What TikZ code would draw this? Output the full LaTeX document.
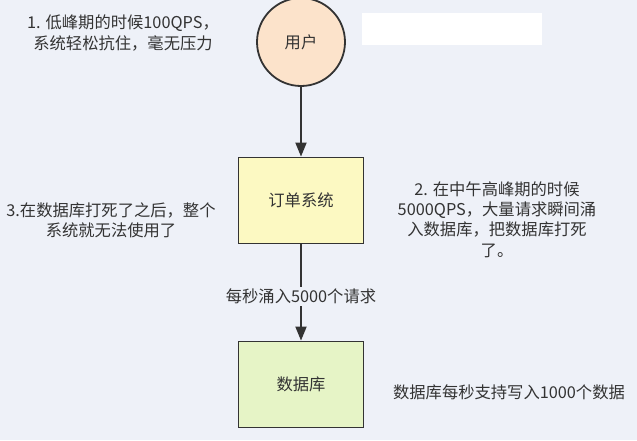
\documentclass[tikz,border=0pt]{standalone}
\usepackage{fontspec}
\setmainfont{Noto Sans CJK SC}
\usetikzlibrary{arrows.meta}
\definecolor{bgc}{HTML}{EEF1F8}
\definecolor{ink}{HTML}{333333}
\definecolor{peach}{HTML}{FCE3CB}
\definecolor{yel}{HTML}{FCF9C2}
\definecolor{grn}{HTML}{E6F4C6}
\tikzset{
  txt/.style={text=ink, font=\fontsize{16.3}{20.3}\selectfont, align=center, inner sep=0pt},
  boxn/.style={draw=ink, line width=1.8pt, minimum width=125pt, minimum height=86pt, txt},
  conn/.style={draw=ink, line width=1.8pt, -{Triangle[width=11pt,length=14pt]}},
}
\begin{document}
\begin{tikzpicture}[x=1pt,y=-1pt]
\useasboundingbox (0,0) rectangle (637,440);
\clip (0,0) rectangle (637,440);
\fill[bgc] (0,0) rectangle (637,440);
\fill[white] (362,13) rectangle (542,45);
\node[circle, draw=ink, line width=1.8pt, fill=peach, minimum size=88pt, txt] (user) at (301,42) {用户};
\node[boxn, fill=yel] (order) at (301,200.5) {订单系统};
\node[boxn, fill=grn] (db) at (301,384.5) {数据库};
\draw[conn] (user) -- (order);
\draw[conn] (order) -- node[txt, fill=bgc, inner sep=2pt, pos=0.54] (lbl) {每秒涌入5000个请求} (db);
\node[txt] (t1) at (123,33) {1. 低峰期的时候100QPS，\\系统轻松抗住，毫无压力};
\node[txt] (t3) at (111,220) {3.在数据库打死了之后，整个\\系统就无法使用了};
\node[txt] (t2) at (497,219.5) {2. 在中午高峰期的时候\\5000QPS，大量请求瞬间涌\\入数据库，把数据库打死\\了。};
\node[txt] (t4) at (509,392) {数据库每秒支持写入1000个数据};
\end{tikzpicture}
\end{document}
